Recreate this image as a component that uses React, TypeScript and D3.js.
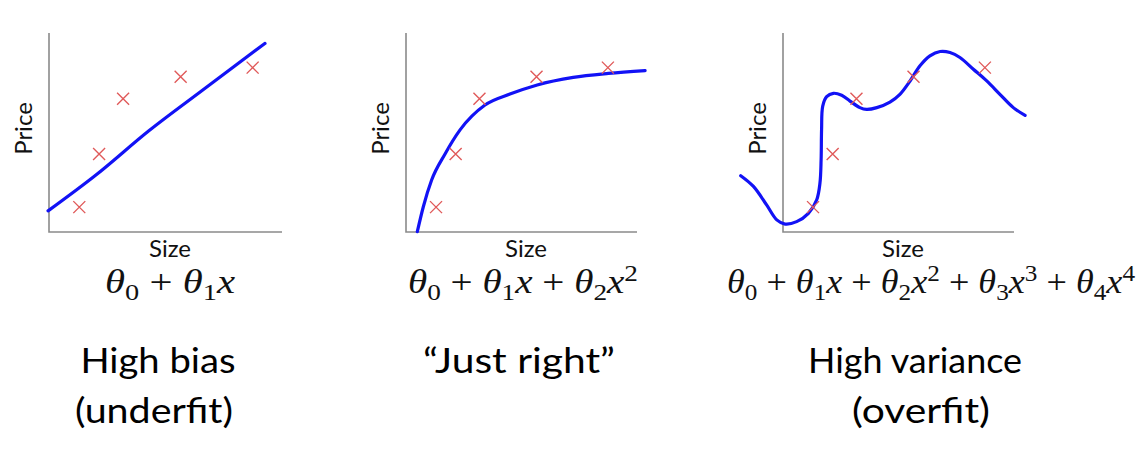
import React from 'react';
import * as d3 from 'd3';

// Training examples (shared by all three panels), in axis units 0..100
const pointsX = [13, 21.5, 31.8, 56.5, 87.4];
const pointsY = [12.5, 39.2, 67, 78, 82.6];

// Fitted curves (axis units)
const linearFitX = [-0.4, 20, 43, 65, 92.7];
const linearFitY = [10.6, 28.5, 51, 70.5, 94.8];

const quadFitX = [4.9, 7.5, 11.1, 16.9, 23.4, 34.2, 45, 56.8, 72.4, 87.6, 103.5];
const quadFitY = [0.2, 12.7, 26.1, 39.2, 51.3, 63.8, 69.3, 73.9, 77.7, 79.7, 81.1];

const quarticFitX = [-18.3, -12.8, -7.1, -2.7, 0.9, 5.9, 11.0, 14.6, 16.0, 16.5, 16.7, 17.2, 18.9, 21.8, 25.4, 29.0, 33.3, 36.2, 40.6, 46.3, 50.6, 55.0, 59.3, 63.6, 68.0, 72.3, 76.6, 82.4, 88.2, 93.9, 99.7, 104.8];
const quarticFitY = [28.3, 22.9, 13.6, 6.1, 4.0, 5.2, 9.4, 16.2, 24.6, 36.4, 51.5, 63.3, 68.0, 69.7, 68.7, 65.8, 62.5, 61.6, 62.5, 65.3, 69.2, 75.9, 83.5, 88.5, 90.7, 90.2, 87.7, 81.8, 75.9, 69.2, 62.5, 58.6];

const fitsX = [linearFitX, quadFitX, quarticFitX];
const fitsY = [linearFitY, quadFitY, quarticFitY];

const degrees = [1, 2, 4];
const xLabel = 'Size';
const yLabel = 'Price';
const captions = [['High bias', '(underfit)'], ['\u201cJust right\u201d'], ['High variance', '(overfit)']];

const panels = [
  { left: 49, top: 33, w: 233, h: 199, formulaX: 170, formulaW: 130, captionX: [158, 154], captionW: [155, 158], curve: d3.curveMonotoneX },
  { left: 406, top: 33, w: 231, h: 199, formulaX: 523, formulaW: 230, captionX: [519], captionW: [192], curve: d3.curveMonotoneX },
  { left: 783, top: 33, w: 231, h: 199, formulaX: 931, formulaW: 408, captionX: [915, 921], captionW: [214, 138], curve: d3.curveCatmullRom.alpha(0.5) },
];

type Seg = { t: string; italic?: boolean; shift: number; small?: boolean };

function formulaSegs(deg: number): Seg[] {
  const segs: Seg[] = [];
  for (let k = 0; k <= deg; k++) {
    if (k > 0) segs.push({ t: ' + ', shift: 0 });
    segs.push({ t: '\u03b8', italic: true, shift: 0 });
    segs.push({ t: String(k), shift: 7, small: true });
    if (k >= 1) segs.push({ t: 'x', italic: true, shift: 0 });
    if (k >= 2) segs.push({ t: String(k), shift: -12, small: true });
  }
  return segs;
}

function Cross({ cx, cy }: { cx: number; cy: number }) {
  const s = 6;
  return (
    <path
      d={`M${cx - s},${cy - s}L${cx + s},${cy + s}M${cx - s},${cy + s}L${cx + s},${cy - s}`}
      stroke="#e05a5a"
      strokeWidth={1.4}
      fill="none"
    />
  );
}

function Panel({ i }: { i: number }) {
  const p = panels[i];
  const x = d3.scaleLinear().domain([0, 100]).range([p.left, p.left + p.w]);
  const y = d3.scaleLinear().domain([0, 100]).range([p.top + p.h, p.top]);
  const fx = fitsX[i];
  const fy = fitsY[i];
  const idx = d3.range(fx.length);
  const line = d3
    .line<number>()
    .x((j) => x(fx[j]))
    .y((j) => y(fy[j]))
    .curve(p.curve);
  const segs = formulaSegs(degrees[i]);
  let prev = 0;
  const midX = (x(0) + x(100)) / 2;
  const midY = (y(0) + y(100)) / 2;
  return (
    <g>
      <path
        d={`M${x(0)},${y(100)}V${y(0)}H${x(100)}`}
        fill="none"
        stroke="#8a8a8a"
        strokeWidth={1.6}
      />
      <text
        transform={`translate(${x(0) - 17},${midY - 4}) rotate(-90)`}
        textAnchor="middle"
        fontFamily="Lato, 'Open Sans', sans-serif"
        fontSize={24}
        fill="#111"
      >
        {yLabel}
      </text>
      <text x={midX + 4.5} y={257} textAnchor="middle" fontFamily="Lato, 'Open Sans', sans-serif" fontSize={24} fill="#111">
        {xLabel}
      </text>
      <path d={line(idx) || ''} fill="none" stroke="#1212f5" strokeWidth={3.2} strokeLinecap="round" strokeLinejoin="round" />
      {pointsX.map((px, j) => (
        <Cross key={j} cx={x(px)} cy={y(pointsY[j])} />
      ))}
      <text
        x={p.formulaX}
        y={293}
        textAnchor="middle"
        fontFamily="'Liberation Serif', 'DejaVu Serif', serif"
        fontSize={33}
        fill="#111"
        textLength={p.formulaW}
        lengthAdjust="spacingAndGlyphs"
      >
        {segs.map((s, k) => {
          const dy = s.shift - prev;
          prev = s.shift;
          return (
            <tspan key={k} dy={dy} fontStyle={s.italic ? 'italic' : 'normal'} fontSize={s.small ? 23 : 33}>
              {s.t}
            </tspan>
          );
        })}
      </text>
      {captions[i].map((c, k) => (
        <text
          key={k}
          x={p.captionX[k]}
          y={373 + k * 50}
          textAnchor="middle"
          fontFamily="Lato, 'Open Sans', sans-serif"
          fontSize={35}
          fill="#000"
          textLength={p.captionW[k]}
          lengthAdjust="spacingAndGlyphs"
        >
          {c}
        </text>
      ))}
    </g>
  );
}

export default function App() {
  return (
    <svg
      width={1146}
      height={451}
      viewBox="0 0 1146 451"
      style={{ position: 'absolute', left: 0, top: 0, background: '#fff' }}
    >
      <rect width={1146} height={451} fill="#fff" />
      {panels.map((_, i) => (
        <Panel key={i} i={i} />
      ))}
    </svg>
  );
}
